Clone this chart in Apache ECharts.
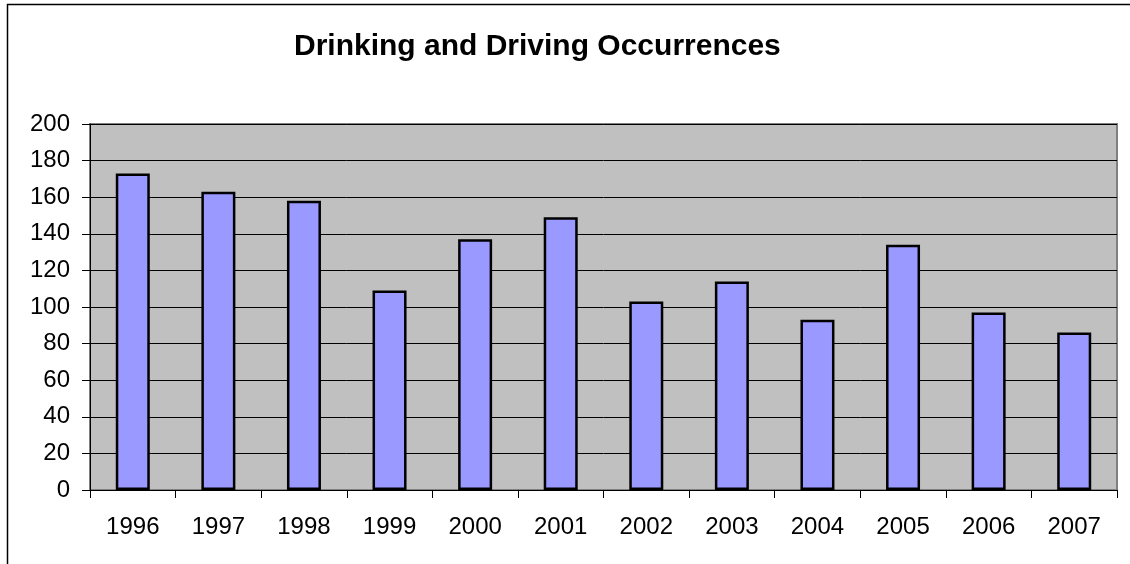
<!DOCTYPE html>
<html>
<head>
<meta charset="utf-8">
<script src="https://cdn.jsdelivr.net/npm/echarts@6/dist/echarts.min.js"></script>
<style>
  html, body { margin: 0; padding: 0; background: #fff; }
  #main { width: 1130px; height: 564px; }
</style>
</head>
<body>
<div id="main"></div>
<script>
var years = ['1996', '1997', '1998', '1999', '2000', '2001', '2002', '2003', '2004', '2005', '2006', '2007'];
var occurrences = [173, 163, 158, 109, 137, 149, 103, 114, 93, 134, 97, 86];
var yMin = 0, yMax = 200, yStep = 20;

var chart = echarts.init(document.getElementById('main'));
var option = {
    backgroundColor: '#fff',
    animation: false,
    title: {
        text: 'Drinking and Driving Occurrences',
        left: 289,
        top: 27,
        textStyle: {
            fontFamily: 'Liberation Sans, Arial, sans-serif',
            fontWeight: 'bold',
            fontSize: 30,
            color: '#000'
        }
    },
    graphic: [{
        type: 'rect',
        shape: { x: 7.5, y: 4.5, width: 1200, height: 1000 },
        style: { fill: 'none', stroke: '#000', lineWidth: 1.5 },
        silent: true
    }],
    grid: {
        left: 90,
        right: 13,
        top: 124,
        bottom: 74,
        show: true,
        backgroundColor: '#C0C0C0',
        borderColor: '#808080',
        borderWidth: 2
    },
    xAxis: {
        type: 'category',
        data: years,
        axisLine: { lineStyle: { color: '#000', width: 1 } },
        axisTick: { show: true, length: 8, inside: false, lineStyle: { color: '#000' } },
        axisLabel: {
            margin: 25,
            color: '#000',
            fontSize: 24,
            fontFamily: 'Liberation Sans, Arial, sans-serif'
        },
        splitLine: { show: false }
    },
    yAxis: {
        type: 'value',
        min: yMin,
        max: yMax,
        interval: yStep,
        axisLine: { show: true, lineStyle: { color: '#000', width: 1 } },
        axisTick: { show: true, length: 8, lineStyle: { color: '#000' } },
        axisLabel: {
            margin: 20,
            color: '#000',
            fontSize: 24,
            fontFamily: 'Liberation Sans, Arial, sans-serif'
        },
        splitLine: { show: true, lineStyle: { color: '#000', width: 1 } }
    },
    series: [{
        type: 'bar',
        data: occurrences,
        barWidth: 34,
        itemStyle: {
            color: '#9999FF',
            borderColor: '#000',
            borderWidth: 2.5
        }
    }]
};
chart.setOption(option);
</script>
</body>
</html>
